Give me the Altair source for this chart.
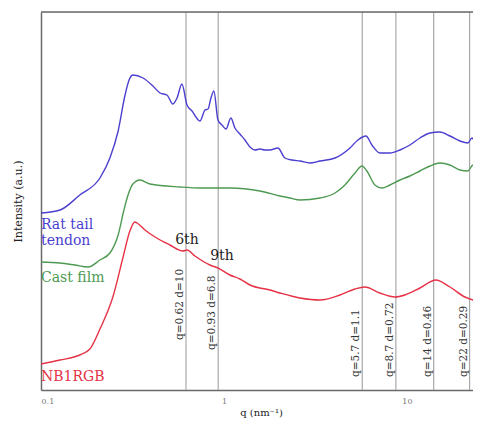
import altair as alt
import pandas as pd

# ---- data (q in nm^-1, intensity in arbitrary units) ----
blue_q = [0.1, 0.127, 0.163, 0.210, 0.238, 0.264, 0.288, 0.303, 0.318, 0.361, 0.409, 0.447,
          0.488, 0.526, 0.554, 0.589, 0.628, 0.669, 0.739, 0.788, 0.818, 0.849, 0.881, 0.927,
          0.975, 1.026, 1.091, 1.148, 1.222, 1.302, 1.387, 1.477, 1.573, 1.675, 1.783, 1.972,
          2.154, 2.352, 2.602, 2.951, 3.350, 4.046, 4.884, 5.395, 5.970, 6.436, 7.112, 8.07,
          9.16, 10.38, 11.78, 13.36, 15.14, 17.18, 19.49, 21.53, 22.65, 23.84, 25.36]
blue_i = [177, 180, 195, 212, 232, 259, 295, 310, 315, 312, 304, 297,
          295, 286, 292, 306, 285, 279, 269, 280, 281, 292, 299, 270,
          265, 261, 272, 262, 256, 250, 243, 240, 241, 240, 240, 242,
          232, 230, 229, 227, 229, 232, 242, 250, 254, 245, 237, 237,
          240, 245, 252, 257, 258, 254, 249, 247, 252, 247, 244]

green_q = [0.1, 0.127, 0.153, 0.181, 0.210, 0.238, 0.264, 0.284, 0.299, 0.318, 0.347, 0.394,
           0.574, 0.739, 1.078, 1.573, 2.023, 2.296, 2.602, 3.350, 4.046, 4.581, 5.200, 5.675,
           6.04, 6.683, 7.295, 8.07, 9.16, 10.38, 11.78, 13.36, 15.14, 17.18, 19.49, 21.53,
           22.96, 24.15, 25.36]
green_i = [128, 127, 125, 123, 130, 137, 155, 180, 195, 206, 210, 206,
           203, 202, 202, 199, 194, 192, 190, 192, 197, 205, 217, 224,
           219, 205, 202, 205, 210, 214, 219, 224, 227, 225, 220, 219,
           225, 217, 214]

red_q = [0.1, 0.127, 0.163, 0.185, 0.210, 0.247, 0.281, 0.306, 0.326, 0.335, 0.370, 0.420,
         0.507, 0.597, 0.628, 0.694, 0.838, 0.927, 1.078, 1.222, 1.387, 1.783, 2.023, 2.602,
         3.350, 4.305, 5.200, 5.89, 7.112, 8.59, 9.75, 11.78, 14.39, 17.18, 20.75, 25.36]
red_i = [26, 30, 35, 41, 61, 93, 133, 159, 168, 167, 160, 153,
         145, 139, 140, 134, 125, 122, 115, 111, 105, 100, 97, 92,
         90, 95, 101, 103, 97, 93, 95, 102, 110, 103, 93, 88]

series_names = ["Rat tail tendon", "Cast film", "NB1RGB"]
series_colors = ["#4b3fcf", "#4e9a52", "#e63246"]

peak_q = [0.62, 0.93, 5.7, 8.7, 14, 22]
peak_text = ["q=0.62  d=10", "q=0.93 d=6.8", "q=5.7 d=1.1", "q=8.7 d=0.72", "q=14 d=0.46", "q=22 d=0.29"]
peak_text_y = [50, 40, 13, 13, 13, 13]

order_q = [0.628, 0.975]
order_i = [150, 134]
order_text = ["6th", "9th"]

name_q = [0.1, 0.1, 0.1, 0.1]
name_i = [165, 149, 112, 13]
name_text = ["Rat tail", "tendon", "Cast film", "NB1RGB"]
name_color = ["#4b3fcf", "#4b3fcf", "#4e9a52", "#e63246"]

# ---- tables ----
rows = []
for nm, qs, vals in zip(series_names, [blue_q, green_q, red_q], [blue_i, green_i, red_i]):
    for q, v in zip(qs, vals):
        rows.append({"series": nm, "q": q, "I": v})
curves = pd.DataFrame(rows)
peaks = pd.DataFrame({"q": peak_q, "I": peak_text_y, "text": peak_text})
orders = pd.DataFrame({"q": order_q, "I": order_i, "text": order_text})
names = pd.DataFrame({"q": name_q, "I": name_i, "text": name_text, "c": name_color})

SERIF = "DejaVu Serif"
FRAME = "#6a6a6a"

x_enc = alt.X("q:Q",
              scale=alt.Scale(type="log", domain=[0.1, 25.4], nice=False),
              axis=alt.Axis(values=[0.1, 1, 10], format="~g", title="q (nm⁻¹)",
                            grid=False, ticks=False, labelFontSize=8, labelColor="#777",
                            labelFont=SERIF, labelPadding=7, titleFont=SERIF,
                            titleFontSize=10, titleFontWeight="normal", titleColor="#222",
                            titlePadding=2, domainColor=FRAME, domainWidth=1.5))
y_enc = alt.Y("I:Q",
              scale=alt.Scale(domain=[0, 378], nice=False),
              axis=alt.Axis(labels=False, ticks=False, grid=False, title="Intensity (a.u.)",
                            titleFont=SERIF, titleFontSize=11, titleFontWeight="normal",
                            titleColor="#222", titlePadding=18, domainColor=FRAME,
                            domainWidth=1.5))

vlines = alt.Chart(pd.DataFrame({"q": peak_q})).mark_rule(
    color="#a8a8a8", strokeWidth=1.2).encode(x=x_enc)

lines = alt.Chart(curves).mark_line(strokeWidth=1.4, clip=True, interpolate="monotone").encode(
    x=x_enc, y=y_enc,
    color=alt.Color("series:N", scale=alt.Scale(domain=series_names, range=series_colors),
                    legend=None),
    detail="series:N")

peak_labels = alt.Chart(peaks).mark_text(
    angle=270, align="left", baseline="bottom", font=SERIF, fontSize=10.5,
    color="#333", dy=-1).encode(x=x_enc, y=y_enc, text="text:N")

order_labels = alt.Chart(orders).mark_text(
    font=SERIF, fontSize=14, color="#222", align="center", baseline="middle").encode(
    x=x_enc, y=y_enc, text="text:N")

name_labels = alt.Chart(names).mark_text(
    font=SERIF, fontSize=14, align="left", baseline="middle", dx=0).encode(
    x=x_enc, y=y_enc, text="text:N", color=alt.Color("c:N", scale=None))

top_border = alt.Chart(pd.DataFrame({"a": [0]})).mark_rule(
    color=FRAME, strokeWidth=1.5).encode(y=alt.value(0))

chart = alt.layer(vlines, lines, peak_labels, order_labels, name_labels, top_border).properties(
    width=440, height=378,
    autosize=alt.AutoSizeParams(type="none"),
    padding={"left": 33, "top": 4, "right": -8, "bottom": 28},
).configure_view(stroke=None).configure(background="white")

chart.save("out.html", embed_options={"renderer": "svg", "actions": False})
